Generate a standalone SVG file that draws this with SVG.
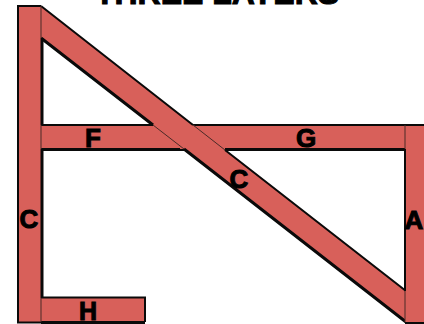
<svg xmlns="http://www.w3.org/2000/svg" width="424" height="324" viewBox="0 0 424 324">
<style>
.f{fill:#d8605a;stroke:none}
.o{stroke:#0a0a0a;stroke-width:2;fill:none}
.h{stroke:#0a0a0a;stroke-width:3;fill:none}
.j{stroke:#4a2a27;stroke-width:1;fill:none}
.t{font-family:"Liberation Sans",Arial,sans-serif;font-weight:700;font-size:26px;fill:#000;stroke:#000;stroke-width:1;text-anchor:middle}
</style>
<rect width="424" height="324" fill="#fff"/>
<text class="t" x="217" y="4" style="font-size:32px">THREE LAYERS</text>
<g id="beam-f"><rect class="f" x="41" y="125" width="150" height="24"/><path class="o" d="M41 125H153"/><path class="h" d="M41 149.500H184"/></g>
<g id="beam-g"><rect class="f" x="180" y="125" width="226" height="24"/><path class="o" d="M193 125H406"/><path class="h" d="M225 149.500H406"/></g>
<g id="beam-h"><rect class="f" x="41" y="298" width="104" height="24"/><path class="o" d="M41 297.500H145V322"/><path class="h" d="M145 322.500H41"/></g>
<g id="beam-diagonal"><polygon class="f" points="41,6 406,291 406,322 41,38"/><path class="o" d="M41 6L193 125M225 150L406 291"/><path class="h" d="M41 38L153 125M184 149L406 322"/><path class="j" d="M193 125L225 150M153 125L184 149"/></g>
<g id="post-left"><rect class="f" x="18" y="6" width="23" height="316"/><path class="h" d="M42 38V125M42 149V298"/><path class="o" d="M41 6H18V322.500H41"/><path class="j" d="M41 6V38M41 125V149M41 298V322"/></g>
<g id="post-right"><rect class="f" x="405" y="125" width="19" height="197"/><path class="o" d="M405 125H424M405 149V291M405 323H424"/><path class="j" d="M405 125V149M405 291V322"/></g>
<g id="labels">
<text class="t" x="93" y="147">F</text>
<text class="t" x="306" y="147">G</text>
<text class="t" x="239" y="187.500">C</text>
<text class="t" x="29" y="228">C</text>
<text class="t" x="414" y="229">A</text>
<text class="t" x="88" y="319.500" style="font-size:25px">H</text>
</g>
</svg>
